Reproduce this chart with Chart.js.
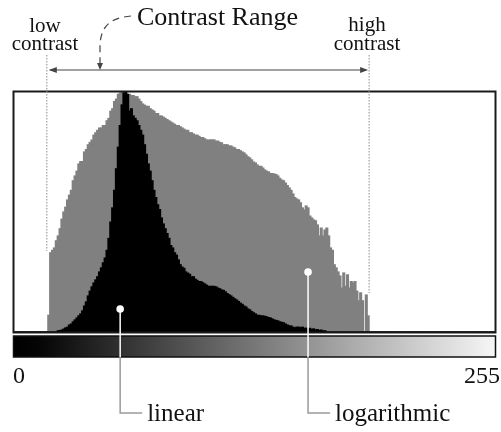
<!DOCTYPE html>
<html>
<head>
<meta charset="utf-8">
<script src="https://cdn.jsdelivr.net/npm/chart.js@4.4.1/dist/chart.umd.min.js"></script>
<style>
  html, body { margin: 0; padding: 0; background: #fff; }
  canvas { display: block; }
</style>
</head>
<body>
<canvas id="histChart" width="501" height="432"></canvas>
<script>
// histogram bins 0..255, heights in % of the tallest bin
const grayLevels = Array.from({ length: 256 }, (_, i) => i);

const logCounts = [
    0, 0, 0, 0, 0, 0, 0, 0, 0, 0,
    0, 0, 0, 0, 0, 0, 0, 0, 7, 33,
    34, 35, 38, 40, 43, 47, 50, 52, 55, 57,
    59, 63, 65, 67, 70, 71, 71, 75, 76, 78,
    79, 80, 82, 83, 84, 85, 85, 86, 86, 88,
    89, 92, 93, 96, 97, 99, 99.5, 100, 100, 99.5,
    99, 99, 98.5, 98.5, 98, 98, 97, 96, 95, 94.5,
    94, 94, 93, 92.5, 92, 91, 91, 90, 90, 89.5,
    89, 88.5, 88, 87.5, 87, 86.5, 86, 86, 85.5, 85,
    84.5, 84, 84, 83, 83, 82.5, 82, 82, 81.5, 81,
    81, 80.5, 80, 80, 80, 80, 80, 79.5, 79.5, 79,
    78.8, 78, 78, 78, 77.5, 77.5, 77, 76.7, 76, 76,
    75.5, 75, 74.6, 73.8, 73, 72.5, 71.7, 70.8, 70.4, 69.6,
    69, 69, 68.3, 67.5, 67, 66.7, 66, 66, 65.8, 65.6,
    65, 64, 63.3, 63, 62, 61, 60, 59, 57.5, 56,
    55.4, 55, 53.8, 51.7, 50.8, 52.5, 51.7, 48.3, 47.5, 46.7,
    46.3, 44.6, 40, 43.3, 40, 42.5, 43.3, 40, 35, 34,
    28, 26.7, 25, 23.3, 18.3, 24.6, 19, 23.8, 18.3, 21,
    20.4, 21, 17, 13, 16.3, 13, 0, 15.4, 6.7, 0,
    0, 0, 0, 0, 0, 0, 0, 0, 0, 0,
    0, 0, 0, 0, 0, 0, 0, 0, 0, 0,
    0, 0, 0, 0, 0, 0, 0, 0, 0, 0,
    0, 0, 0, 0, 0, 0, 0, 0, 0, 0,
    0, 0, 0, 0, 0, 0, 0, 0, 0, 0,
    0, 0, 0, 0, 0, 0, 0, 0, 0, 0,
    0, 0, 0, 0, 0, 0
];

const linearCounts = [
    0, 0, 0, 0, 0, 0, 0, 0, 0, 0,
    0, 0, 0, 0, 0, 0, 0, 0, 0, 0,
    0, 0, 0, 0.5, 0.6, 0.8, 1.2, 1.7, 2, 2.9,
    3.3, 4.2, 5, 5.8, 6.7, 7.5, 8.8, 10.8, 12.5, 15,
    17, 18.8, 20.4, 21.7, 23, 25, 26.7, 28.8, 30.8, 34,
    39, 45.8, 51.7, 59, 68, 77, 86, 94.6, 99.6, 100,
    99, 92, 93, 90, 89, 88, 86, 84, 82, 78,
    74, 70, 67, 63, 59, 56, 53, 51, 47.5, 45,
    43, 41, 39, 36, 35, 33, 32, 30, 28, 27,
    26.5, 25, 24.5, 24, 23, 23, 22, 21.5, 21, 21,
    20.5, 20, 19.5, 19, 19, 19, 19, 18.8, 18.3, 18,
    17.5, 17.3, 16.7, 16, 15.5, 15, 14.4, 13.8, 13.3, 12.7,
    12, 11.5, 10.8, 10.4, 9.6, 9.2, 8.5, 8, 7.5, 7,
    6.9, 6.7, 6.7, 6.5, 6.3, 6, 5.8, 5.4, 5, 4.8,
    4.6, 4.2, 4, 3.8, 3.3, 2.9, 2.5, 2.5, 2, 1.7,
    2, 2, 1.8, 2, 1.5, 1.6, 1.2, 1.5, 1, 1.3,
    0.8, 1, 0.6, 0.8, 0.4, 0.5, 0, 0, 0, 0,
    0, 0, 0, 0, 0, 0, 0, 0, 0, 0,
    0, 0, 0, 0, 0, 0, 0, 0, 0, 0,
    0, 0, 0, 0, 0, 0, 0, 0, 0, 0,
    0, 0, 0, 0, 0, 0, 0, 0, 0, 0,
    0, 0, 0, 0, 0, 0, 0, 0, 0, 0,
    0, 0, 0, 0, 0, 0, 0, 0, 0, 0,
    0, 0, 0, 0, 0, 0, 0, 0, 0, 0,
    0, 0, 0, 0, 0, 0, 0, 0, 0, 0,
    0, 0, 0, 0, 0, 0
];

const rangeTicks = ["0", "255"];
const contrastBins = [18, 188];        // first / last non-empty bin of the log histogram
const seriesNames = ["linear", "logarithmic"];
const markerPoints = [[56, 9.6], [156, 25]];   // [bin, value] where each label points

const SERIF = '"Liberation Serif", "DejaVu Serif", serif';

function arrowHead(ctx, x, y, dx, dy, len, half) {
    // tip at (x, y), pointing along (dx, dy)
    ctx.beginPath();
    ctx.moveTo(x, y);
    ctx.lineTo(x - dx * len - dy * half, y - dy * len + dx * half);
    ctx.lineTo(x - dx * len + dy * half, y - dy * len - dx * half);
    ctx.closePath();
    ctx.fill();
}

const figurePlugin = {
    id: "figure",
    beforeDraw(chart) {
        const ctx = chart.ctx;
        ctx.save();
        ctx.fillStyle = "#fff";
        ctx.fillRect(0, 0, chart.width, chart.height);
        ctx.restore();
    },
    afterDatasetsDraw(chart) {
        const { ctx, chartArea: a, scales: { x, y } } = chart;
        const bw = (a.right - a.left) / grayLevels.length;
        ctx.save();

        // plot frame
        ctx.strokeStyle = "#1a1a1a";
        ctx.lineWidth = 2;
        ctx.strokeRect(a.left - 0.5, a.top - 0.5, a.right - a.left + 1, a.bottom - a.top + 1);

        // gray ramp under the plot
        const rampTop = a.bottom + 4, rampBot = a.bottom + 25;
        const grad = ctx.createLinearGradient(a.left, 0, a.right, 0);
        grad.addColorStop(0, "#000");
        grad.addColorStop(0.05, "#050505");
        grad.addColorStop(1, "#f6f6f6");
        ctx.fillStyle = grad;
        ctx.fillRect(a.left - 0.5, rampTop, a.right - a.left + 1, rampBot - rampTop);
        ctx.lineWidth = 1.5;
        ctx.strokeStyle = "#111";
        ctx.strokeRect(a.left - 0.5, rampTop, a.right - a.left + 1, rampBot - rampTop);

        // ramp end labels
        ctx.fillStyle = "#111";
        ctx.font = "24px " + SERIF;
        ctx.textBaseline = "alphabetic";
        ctx.textAlign = "left";
        ctx.fillText(rangeTicks[0], a.left - 1, 383);
        ctx.textAlign = "right";
        ctx.fillText(rangeTicks[1], 500, 383);

        // contrast limits
        const lowX = x.getPixelForValue(contrastBins[0]) - bw / 2 - 1;
        const highX = x.getPixelForValue(contrastBins[1]) + bw / 2;
        ctx.strokeStyle = "#8a8a8a";
        ctx.lineWidth = 1;
        ctx.setLineDash([1.5, 1.5]);
        ctx.beginPath();
        ctx.moveTo(lowX, 55);
        ctx.lineTo(lowX, y.getPixelForValue(logCounts[contrastBins[0] + 1]) - 2);
        ctx.moveTo(highX, 55);
        ctx.lineTo(highX, y.getPixelForValue(logCounts[contrastBins[1] - 1]) - 2);
        ctx.stroke();
        ctx.setLineDash([]);

        // double arrow
        ctx.strokeStyle = "#444";
        ctx.fillStyle = "#444";
        ctx.lineWidth = 1.2;
        ctx.beginPath();
        ctx.moveTo(lowX + 3, 70);
        ctx.lineTo(highX - 3, 70);
        ctx.stroke();
        arrowHead(ctx, lowX + 2, 70, -1, 0, 8, 3);
        arrowHead(ctx, highX - 1, 70, 1, 0, 8, 3);

        // dashed pointer from the title
        ctx.setLineDash([7, 5]);
        ctx.lineWidth = 1.2;
        ctx.beginPath();
        ctx.moveTo(131, 16);
        ctx.bezierCurveTo(110, 18, 101, 26, 100, 45);
        ctx.lineTo(100, 63);
        ctx.stroke();
        ctx.setLineDash([]);
        arrowHead(ctx, 100, 70, 0, 1, 7, 3);

        // top labels
        ctx.fillStyle = "#111";
        ctx.textAlign = "left";
        ctx.font = "26px " + SERIF;
        ctx.fillText("Contrast Range", 137, 25);
        ctx.textAlign = "center";
        ctx.font = "21px " + SERIF;
        ctx.fillText("low", 45, 32);
        ctx.fillText("contrast", 45, 50);
        ctx.fillText("high", 367, 31);
        ctx.fillText("contrast", 367, 50);

        // series pointers
        const cornerY = 413;
        markerPoints.forEach(([bin, val], i) => {
            const px = x.getPixelForValue(bin);
            const py = y.getPixelForValue(val);
            ctx.lineWidth = 1.5;
            ctx.strokeStyle = "#fff";
            ctx.beginPath();
            ctx.moveTo(px, py);
            ctx.lineTo(px, rampBot);
            ctx.stroke();
            ctx.strokeStyle = "#9a9a9a";
            ctx.beginPath();
            ctx.moveTo(px, rampBot);
            ctx.lineTo(px, cornerY);
            ctx.lineTo(px + 22, cornerY);
            ctx.stroke();
            ctx.fillStyle = "#fff";
            ctx.beginPath();
            ctx.arc(px, py, 3.8, 0, Math.PI * 2);
            ctx.fill();
            ctx.fillStyle = "#111";
            ctx.textAlign = "left";
            ctx.font = "25px " + SERIF;
            ctx.fillText(seriesNames[i], px + 27, 421);
        });

        ctx.restore();
    }
};

new Chart(document.getElementById("histChart"), {
    type: "bar",
    data: {
        labels: grayLevels,
        datasets: [
            {
                label: seriesNames[0],
                data: linearCounts,
                backgroundColor: "#000000",
                order: 1
            },
            {
                label: seriesNames[1],
                data: logCounts,
                backgroundColor: "#808080",
                order: 2
            }
        ]
    },
    options: {
        responsive: false,
        animation: false,
        layout: {
            padding: { left: 14, right: 6, top: 92, bottom: 100 }
        },
        datasets: {
            bar: {
                barPercentage: 1,
                categoryPercentage: 1,
                grouped: false,
                borderWidth: 0,
                inflateAmount: 0.6
            }
        },
        scales: {
            x: { display: false },
            y: { display: false, min: 0, max: 100 }
        },
        plugins: {
            legend: { display: false },
            tooltip: { enabled: false }
        }
    },
    plugins: [figurePlugin]
});
</script>
</body>
</html>
